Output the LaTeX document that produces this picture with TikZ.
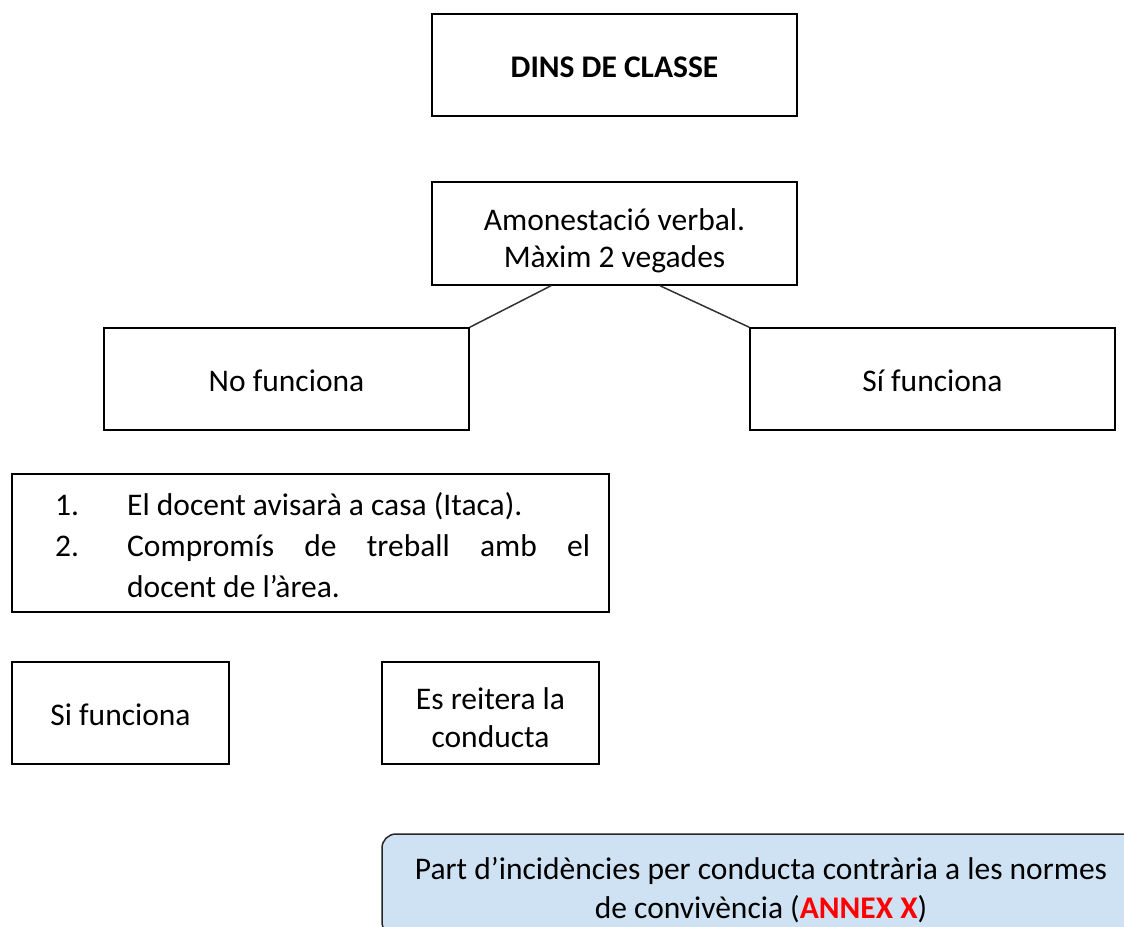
\documentclass[tikz,border=0pt]{standalone}
\usepackage{fontspec}
\setmainfont{Carlito}
\definecolor{partblue}{RGB}{207,226,243}
\definecolor{annexred}{RGB}{255,0,0}
\newcommand\fsz{\fontsize{31.5}{38}\selectfont}
\tikzset{
  box/.style={draw=black, line width=1.5pt, minimum width=365pt, minimum height=102pt,
    inner sep=0pt, align=center, font=\fsz, text height=24pt, text depth=0pt},
  multi/.style={text height=, text depth=},
  smallbox/.style={box, minimum width=217pt},
  plain/.style={inner sep=0pt, font=\fsz},
  link/.style={draw=black!80, line width=1.5pt}
}
\begin{document}
\begin{tikzpicture}[x=1pt,y=-1pt]
\useasboundingbox (0,0) rectangle (1124,926);
\clip (0,0) rectangle (1124,926);
\node[box, font=\fsz\bfseries] (title) at (614.5,65) {DINS DE CLASSE};
\node[box, multi, minimum height=103pt, font=\fontsize{31.5}{37}\selectfont] (amon) at (614.5,233.5) {\rule{0pt}{36pt}Amonestació verbal.\\Màxim 2 vegades};
\node[box] (nof) at (286.5,379) {No funciona};
\node[box] (sif) at (932.5,379) {Sí funciona};
\node[box, minimum width=597pt, minimum height=138pt] (list) at (310.5,543) {};
\node[plain, anchor=base west] (n1) at (55,515) {1.};
\node[plain, anchor=base west] (t1) at (127,515) {El docent avisarà a casa (Itaca).};
\node[plain, anchor=base west] (n2) at (55,556) {2.};
\node[plain, anchor=base west] (t2) at (127,556) {\makebox[463pt][s]{Compromís de treball amb el}};
\node[plain, anchor=base west] (t3) at (127,597) {docent de l’àrea.};
\node[smallbox] (si) at (120.5,713) {Si funciona};
\node[smallbox, multi] (es) at (490.5,713) {\rule{0pt}{32pt}Es reitera la\\conducta};
\node[box, multi, fill=partblue, rounded corners=14pt, minimum width=758pt, minimum height=102pt,
  draw=black!85, font=\fontsize{31.5}{39}\selectfont] (part) at (761,885)
  {\rule{0pt}{32pt}Part d’incidències per conducta contrària a les normes\\de convivència ({\bfseries\color{annexred}ANNEX X})};
\draw[link] ([xshift=-63.5pt]amon.south) -- (nof.north east);
\draw[link] ([xshift=45.5pt]amon.south) -- (sif.north west);
\end{tikzpicture}
\end{document}
